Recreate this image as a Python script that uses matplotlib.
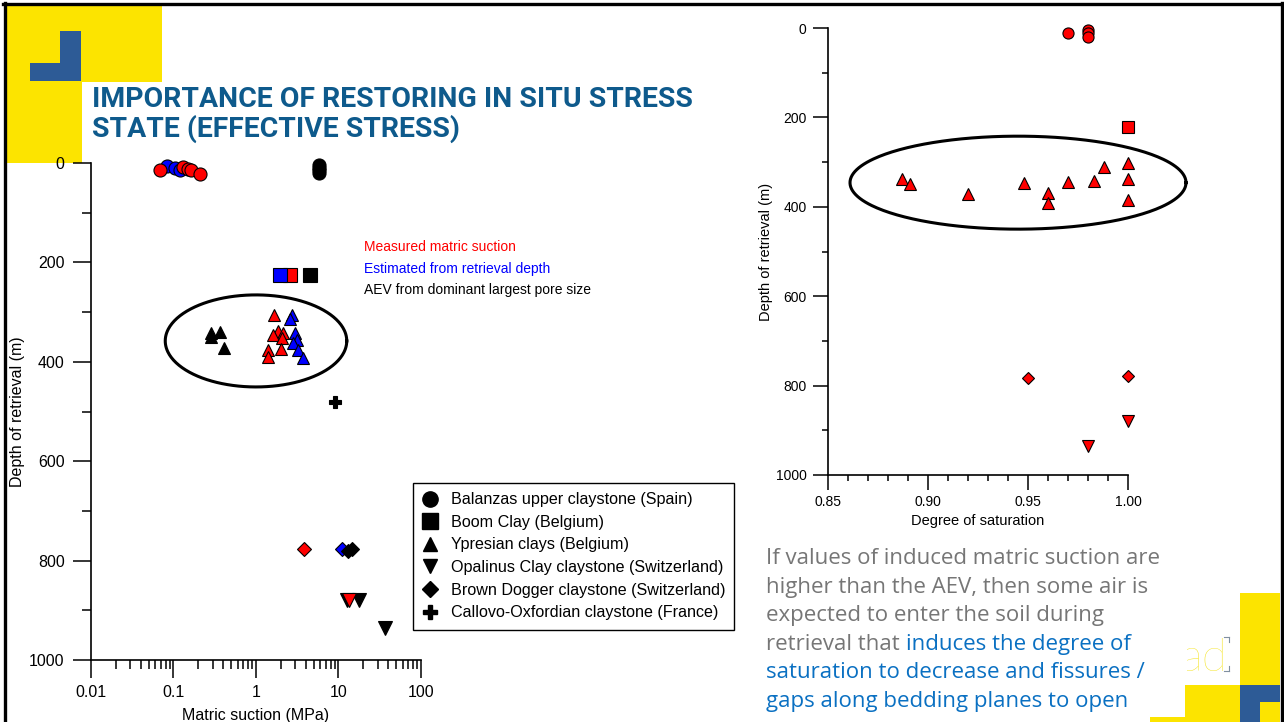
import numpy as np
import matplotlib
matplotlib.use("Agg")
import matplotlib.pyplot as plt
from matplotlib.lines import Line2D
from matplotlib.patches import Rectangle
from matplotlib.ticker import FixedLocator, NullFormatter, LogLocator

plt.rcParams['font.family'] = ['Liberation Sans', 'DejaVu Sans']

W, H = 1284, 722

# ---------------- Left panel: matric suction (MPa) vs depth of retrieval (m)
# Balanzas upper claystone (Spain) - circles
balanzas_meas_suction = [0.068, 0.129, 0.15, 0.161, 0.21]
balanzas_meas_depth = [15, 9, 13, 14, 22]
balanzas_est_suction = [0.083, 0.104, 0.12]
balanzas_est_depth = [7, 10, 15]
balanzas_aev_suction = [5.8, 5.8, 5.8, 5.8]
balanzas_aev_depth = [5, 10, 15, 20]
# Boom Clay (Belgium) - squares
boom_meas_suction = [2.55]
boom_meas_depth = [225]
boom_est_suction = [1.93]
boom_est_depth = [225]
boom_aev_suction = [4.5]
boom_aev_depth = [225]
# Ypresian clays (Belgium) - triangles
ypres_meas_suction = [1.65, 1.86, 2.14, 1.62, 2.05, 1.41, 2.0, 1.41]
ypres_meas_depth = [306, 339, 343, 346, 353, 376, 375, 390]
ypres_est_suction = [2.71, 2.58, 2.97, 3.11, 2.83, 3.26, 3.74]
ypres_est_depth = [306, 313, 343, 356, 363, 376, 392]
ypres_aev_suction = [0.283, 0.366, 0.283, 0.41]
ypres_aev_depth = [343, 340, 350, 373]
# Opalinus Clay claystone (Switzerland) - down triangles
opal_meas_suction = [13.5]
opal_meas_depth = [879]
opal_aev_suction = [12.6, 17.9, 36.6]
opal_aev_depth = [879, 879, 936]
# Brown Dogger claystone (Switzerland) - diamonds
dogger_meas_suction = [3.85]
dogger_meas_depth = [777]
dogger_est_suction = [11.1]
dogger_est_depth = [777]
dogger_aev_suction = [13.1, 14.4]
dogger_aev_depth = [780, 777]
# Callovo-Oxfordian claystone (France) - plus
cox_aev_suction = [9.07]
cox_aev_depth = [481]

x_ticks_left = [0.01, 0.1, 1, 10, 100]
x_ticklabels_left = ['0.01', '0.1', '1', '10', '100']
y_ticks = [0, 200, 400, 600, 800, 1000]

legend_labels = ['Balanzas upper claystone (Spain)', 'Boom Clay (Belgium)',
                 'Ypresian clays (Belgium)', 'Opalinus Clay claystone (Switzerland)',
                 'Brown Dogger claystone (Switzerland)',
                 'Callovo-Oxfordian claystone (France)']

# ---------------- Right panel: degree of saturation vs depth of retrieval (m)
sat_balanzas = [0.970, 0.980, 0.980, 0.980]
sat_balanzas_depth = [11, 5, 12, 20]
sat_boom = [1.0]
sat_boom_depth = [222]
sat_ypres = [0.887, 0.891, 0.920, 0.948, 0.960, 0.960, 0.970, 0.983, 0.988, 1.0, 1.0, 1.0]
sat_ypres_depth = [338, 348, 372, 347, 370, 391, 345, 342, 311, 303, 337, 385]
sat_dogger = [0.95, 1.0]
sat_dogger_depth = [783, 778]
sat_opal = [0.98, 1.0]
sat_opal_depth = [935, 879]

x_ticks_right = [0.85, 0.90, 0.95, 1.00]
x_ticklabels_right = ['0.85', '0.90', '0.95', '1.00']

RED, BLUE, BLACK = '#FF0000', '#0000FF', '#000000'
YELLOW = '#FCE400'
DECO_BLUE = '#2D5B96'
TITLE_BLUE = '#0E5A8C'
GREY_TXT = '#767676'
BLUE_TXT = '#0A70C2'

fig = plt.figure(figsize=(W / 100, H / 100), dpi=100)
fig.patch.set_facecolor('white')


def fx(px):
    return px / W


def fy(py):
    return 1 - py / H


def frect(x0, y0, x1, y1, color, z=0):
    fig.patches.append(Rectangle((fx(x0), fy(y1)), (x1 - x0) / W, (y1 - y0) / H,
                                 transform=fig.transFigure, facecolor=color,
                                 edgecolor='none', zorder=z))


# slide decorations
frect(6, 6, 162, 82, YELLOW)
frect(6, 82, 82, 163, YELLOW)
frect(60, 31, 81, 81, DECO_BLUE)
frect(30, 63, 81, 81, DECO_BLUE)
frect(1240, 593, 1280, 685, YELLOW)
frect(1185, 685, 1240, 722, YELLOW)
frect(1150, 717, 1185, 722, YELLOW)
frect(1240, 685, 1280, 722, DECO_BLUE)
frect(1260, 702, 1280, 722, YELLOW)

fig.text(fx(1227), fy(671), 'ad', color='#F4E31A', fontsize=33, family='Lato',
         fontweight='light', ha='right', va='baseline', zorder=1)
frect(1150, 625, 1187, 685, 'white', z=2)
for (xa, ya, xb, yb) in [(1224, 637, 1229, 637), (1229, 637, 1229, 642),
                         (1224, 671, 1229, 671), (1229, 666, 1229, 671)]:
    fig.add_artist(Line2D([fx(xa), fx(xb)], [fy(ya), fy(yb)], color='#8090A0',
                          lw=0.8, transform=fig.transFigure, zorder=3))

# slide frame
for (xa, ya, xb, yb) in [(3, 4, 1282, 4), (4.5, 3, 4.5, 722), (1281.5, 3, 1281.5, 722)]:
    fig.add_artist(Line2D([fx(xa), fx(xb)], [fy(ya), fy(yb)], color='black',
                          lw=2.4, transform=fig.transFigure, zorder=10))

# title
fig.text(fx(92), fy(107), 'IMPORTANCE OF RESTORING IN SITU STRESS', color=TITLE_BLUE,
         fontsize=20.4, fontweight='bold', family='Roboto', va='baseline', zorder=5)
fig.text(fx(92), fy(137), 'STATE (EFFECTIVE STRESS)', color=TITLE_BLUE,
         fontsize=20.4, fontweight='bold', family='Roboto', va='baseline', zorder=5)


def style_axes(ax, major_len, minor_len, fs):
    ax.patch.set_alpha(0)
    for s in ['top', 'right']:
        ax.spines[s].set_visible(False)
    for s in ['left', 'bottom']:
        ax.spines[s].set_linewidth(1.2)
    ax.tick_params(which='major', direction='out', length=major_len, width=1.1,
                   labelsize=fs, pad=4)
    ax.tick_params(which='minor', direction='out', length=minor_len, width=1.1)


def pts(ax, x, y, marker, face, size, z=3):
    ax.plot(x, y, ls='none', marker=marker, markersize=size, markerfacecolor=face,
            markeredgecolor='black', markeredgewidth=0.8, zorder=z, clip_on=False)


# ---------------- left panel
axL = fig.add_axes([fx(91), fy(660), 330 / W, 497 / H])
axL.set_zorder(4)
axL.set_xscale('log')
axL.set_xlim(0.01, 100)
axL.set_ylim(1000, 0)
style_axes(axL, 13, 6.5, 11.5)
axL.xaxis.set_major_locator(FixedLocator(x_ticks_left))
axL.set_xticklabels(x_ticklabels_left)
axL.xaxis.set_minor_locator(LogLocator(base=10, subs=np.arange(2, 10)))
axL.xaxis.set_minor_formatter(NullFormatter())
axL.yaxis.set_major_locator(FixedLocator(y_ticks))
axL.set_yticklabels([str(v) for v in y_ticks])
axL.yaxis.set_minor_locator(FixedLocator([100, 300, 500, 700, 900]))
axL.tick_params(axis='y', which='major', pad=6)
axL.tick_params(axis='x', which='major', pad=5)
axL.set_xlabel('Matric suction (MPa)', fontsize=11.5, labelpad=6)
axL.set_ylabel('Depth of retrieval (m)', fontsize=11.5, labelpad=3)

pts(axL, balanzas_est_suction, balanzas_est_depth, 'o', BLUE, 9.4)
pts(axL, balanzas_meas_suction, balanzas_meas_depth, 'o', RED, 9.4)
pts(axL, balanzas_aev_suction, balanzas_aev_depth, 'o', BLACK, 9.4)
pts(axL, boom_meas_suction, boom_meas_depth, 's', RED, 9.6)
pts(axL, boom_est_suction, boom_est_depth, 's', BLUE, 9.6)
pts(axL, boom_aev_suction, boom_aev_depth, 's', BLACK, 9.6)
pts(axL, ypres_aev_suction, ypres_aev_depth, '^', BLACK, 9)
pts(axL, ypres_meas_suction, ypres_meas_depth, '^', RED, 9)
pts(axL, ypres_est_suction, ypres_est_depth, '^', BLUE, 9)
pts(axL, opal_aev_suction, opal_aev_depth, 'v', BLACK, 9.5)
pts(axL, opal_meas_suction, opal_meas_depth, 'v', RED, 9.5)
pts(axL, dogger_meas_suction, dogger_meas_depth, 'D', RED, 7.2)
pts(axL, dogger_est_suction, dogger_est_depth, 'D', BLUE, 7.2)
pts(axL, dogger_aev_suction, dogger_aev_depth, 'D', BLACK, 7.2)
pts(axL, cox_aev_suction, cox_aev_depth, 'P', BLACK, 8.5)

# ellipse around the Ypresian cluster (in log-suction space)
t = np.linspace(0, 2 * np.pi, 300)
axL.plot(10 ** (0.0 + 1.10 * np.cos(t)), 358 + 92.6 * np.sin(t), color='black',
         lw=2.2, zorder=2, clip_on=False)

axL.text(fx(364), fy(247), 'Measured matric suction', color=RED, fontsize=10,
         va='center', transform=fig.transFigure)
axL.text(fx(364), fy(269), 'Estimated from retrieval depth', color=BLUE, fontsize=10,
         va='center', transform=fig.transFigure)
axL.text(fx(364), fy(290), 'AEV from dominant largest pore size', color=BLACK,
         fontsize=10, va='center', transform=fig.transFigure)

handles = [Line2D([], [], ls='none', marker=m, markersize=s, color='black')
           for m, s in zip(['o', 's', '^', 'v', 'D', 'P'], [11, 11, 10.5, 10.5, 8.5, 10])]
leg = axL.legend(handles, legend_labels, loc='upper left',
                 bbox_to_anchor=(fx(413), fy(483)), bbox_transform=fig.transFigure,
                 fontsize=11.6, frameon=True, fancybox=False, framealpha=1,
                 edgecolor='black', borderpad=0.58, handlelength=1.0,
                 handletextpad=0.75, labelspacing=0.47, borderaxespad=0)
leg.get_frame().set_linewidth(1.0)

# ---------------- right panel
axR = fig.add_axes([fx(828), fy(475), 300 / W, 447 / H])
axR.set_zorder(4)
axR.set_xlim(0.85, 1.00)
axR.set_ylim(1000, 0)
style_axes(axR, 10.5, 4.5, 10)
axR.xaxis.set_major_locator(FixedLocator(x_ticks_right))
axR.set_xticklabels(x_ticklabels_right)
axR.xaxis.set_minor_locator(FixedLocator(np.arange(0.86, 1.0, 0.01)))
axR.yaxis.set_major_locator(FixedLocator(y_ticks))
axR.set_yticklabels([str(v) for v in y_ticks])
axR.yaxis.set_minor_locator(FixedLocator([100, 300, 500, 700, 900]))
axR.tick_params(axis='y', which='major', pad=5)
axR.tick_params(axis='x', which='major', pad=4)
axR.set_xlabel('Degree of saturation', fontsize=10.5, labelpad=3.5)
axR.set_ylabel('Depth of retrieval (m)', fontsize=10.5, labelpad=2)

pts(axR, sat_balanzas, sat_balanzas_depth, 'o', RED, 8)
pts(axR, sat_boom, sat_boom_depth, 's', RED, 8.7)
pts(axR, sat_ypres, sat_ypres_depth, '^', RED, 8)
pts(axR, sat_dogger, sat_dogger_depth, 'D', RED, 5.8)
pts(axR, sat_opal, sat_opal_depth, 'v', RED, 8)

axR.plot(0.945 + 0.084 * np.cos(t), 346 + 104 * np.sin(t), color='black', lw=2.2,
         zorder=2, clip_on=False)

# ---------------- explanatory note
note_grey = ['If values of induced matric suction are',
             'higher than the AEV, then some air is',
             'expected to enter the soil during']
note_blue = ['saturation to decrease and fissures /',
             'gaps along bedding planes to open']
base0, step = 564, 28.6
note_kw = dict(fontsize=16, family='Open Sans', va='baseline', zorder=5)
for i, line in enumerate(note_grey):
    fig.text(fx(766), fy(base0 + i * step), line, color=GREY_TXT, **note_kw)
renderer = fig.canvas.get_renderer()
lead = fig.text(fx(766), fy(base0 + 3 * step), 'retrieval that', color=GREY_TXT, **note_kw)
bb = lead.get_window_extent(renderer=renderer)
probe_a = fig.text(0, 0, 'xx', **note_kw)
probe_b = fig.text(0, 0, 'x x', **note_kw)
space_w = (probe_b.get_window_extent(renderer=renderer).width
           - probe_a.get_window_extent(renderer=renderer).width)
probe_a.remove()
probe_b.remove()
fig.text((bb.x1 + space_w) / W, fy(base0 + 3 * step), 'induces the degree of',
         color=BLUE_TXT, **note_kw)
for i, line in enumerate(note_blue):
    fig.text(fx(766), fy(base0 + (4 + i) * step), line, color=BLUE_TXT, **note_kw)

fig.savefig('out.png', dpi=100, facecolor='white')
